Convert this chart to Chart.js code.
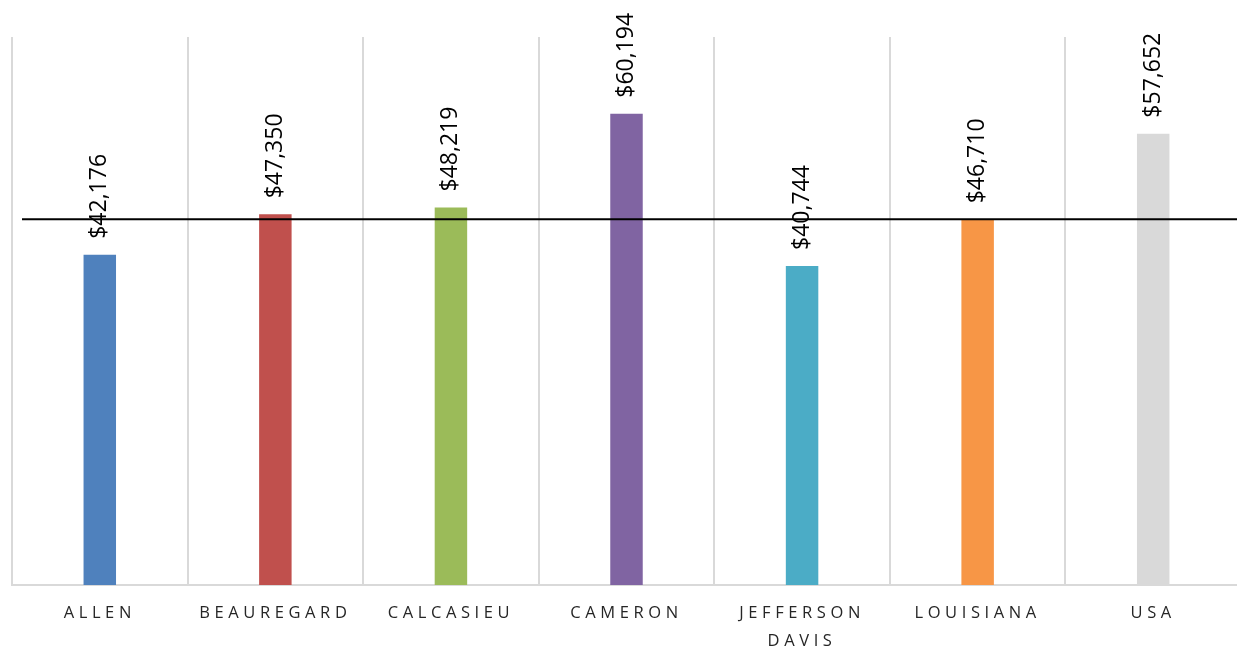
<!DOCTYPE html>
<html>
<head>
<meta charset="utf-8">
<script src="https://cdn.jsdelivr.net/npm/chart.js@4"></script>
<style>
  html, body { margin: 0; padding: 0; background: #fff; overflow: hidden; }
  #wrap { width: 1242px; height: 669px; }
</style>
</head>
<body>
<div id="wrap"><canvas id="chart"></canvas></div>
<script>
// data
const categories = ['ALLEN', 'BEAUREGARD', 'CALCASIEU', 'CAMERON', ['JEFFERSON', 'DAVIS'], 'LOUISIANA', 'USA'];
const incomes = [42176, 47350, 48219, 60194, 40744, 46710, 57652];
const barColors = ['#4F81BD', '#C0504D', '#9BBB59', '#8064A2', '#4BACC6', '#F79646', '#D9D9D9'];
const stateLine = 46710;   // Louisiana reference line
const yMax = 70000;

function money(v) {
    return '$' + v.toLocaleString('en-US');
}

// letter spacing for the axis labels only
const spacing = {
    id: 'spacing',
    beforeDraw(chart) {
        chart.ctx.letterSpacing = '4.6px';
    },
    beforeDatasetsDraw(chart) {
        chart.ctx.letterSpacing = '0px';
    }
};

// black reference line + rotated value labels
const extras = {
    id: 'extras',
    afterDatasetsDraw(chart) {
        const ctx = chart.ctx;
        const area = chart.chartArea;
        const y = chart.scales.y.getPixelForValue(stateLine);

        ctx.save();
        ctx.strokeStyle = '#000';
        ctx.lineWidth = 2;
        ctx.beginPath();
        ctx.moveTo(area.left + 10, y);
        ctx.lineTo(area.right, y);
        ctx.stroke();

        ctx.font = '23px "Open Sans"';
        ctx.fillStyle = '#000';
        ctx.textAlign = 'left';
        ctx.textBaseline = 'middle';
        chart.getDatasetMeta(0).data.forEach((bar, i) => {
            ctx.save();
            ctx.translate(bar.x, bar.y - 16);
            ctx.rotate(-Math.PI / 2);
            ctx.fillText(money(incomes[i]), 0, 0);
            ctx.restore();
        });
        ctx.restore();
    }
};

new Chart(document.getElementById('chart'), {
    type: 'bar',
    data: {
        labels: categories,
        datasets: [{
            data: incomes,
            backgroundColor: barColors,
            borderWidth: 0,
            barPercentage: 0.185,
            categoryPercentage: 1
        }]
    },
    options: {
        responsive: true,
        maintainAspectRatio: false,
        animation: false,
        layout: { padding: { left: 12, right: 1, top: 37, bottom: 0 } },
        plugins: {
            legend: { display: false },
            tooltip: { enabled: false }
        },
        scales: {
            x: {
                grid: {
                    color: '#D9D9D9',
                    lineWidth: 2,
                    drawTicks: false,
                    offset: true
                },
                border: { color: '#D9D9D9', width: 2 },
                ticks: {
                    color: '#262626',
                    padding: 14,
                    maxRotation: 0,
                    autoSkip: false,
                    font: { family: 'Open Sans', size: 16.5, lineHeight: 1.7 }
                }
            },
            y: {
                display: false,
                min: 0,
                max: yMax
            }
        }
    },
    plugins: [spacing, extras]
});
</script>
</body>
</html>
